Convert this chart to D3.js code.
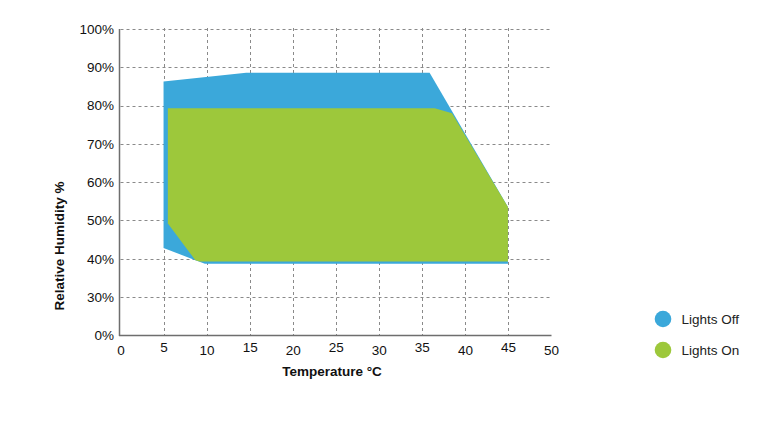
<!DOCTYPE html>
<html><head><meta charset="utf-8">
<script src="https://cdn.jsdelivr.net/npm/d3@7"></script>
<style>
body{margin:0;background:#fff;}
svg{display:block;font-family:"Liberation Sans",Arial,Helvetica,sans-serif;}
</style></head>
<body>
<svg id="chart" width="774" height="436"></svg>
<script>
// Data
const xTicks = [0,5,10,15,20,25,30,35,40,45,50];
const yTicks = [0,30,40,50,60,70,80,90,100];
const seriesNames = ["Lights Off","Lights On"];
const seriesColors = ["#3ba8da","#9dc83b"];
const offTemp = [5, 14.6, 35.9, 45, 45, 9.8, 8.7, 5];
const offHum  = [86.3, 88.6, 88.6, 53.5, 38.7, 38.7, 39.6, 42.8];
const onTemp  = [5.5, 36.5, 38.5, 45, 45, 9.2, 8.7, 5.5];
const onHum   = [79.3, 79.3, 78.0, 53.5, 39.3, 39.3, 39.6, 49.2];

const svg = d3.select("#chart");
const x = d3.scaleLinear().domain([0,50]).range([120.5,551]);
const y = d3.scaleLinear().domain([0,30,100]).range([335.5,297,29]);

// gridlines
const grid = svg.append("g").attr("stroke","#8a8a8a").attr("stroke-width",1).attr("stroke-dasharray","3,3").attr("fill","none");
grid.selectAll("line.h").data(yTicks.filter(d=>d>0)).join("line")
  .attr("x1",x(0)).attr("x2",x(50)).attr("y1",d=>Math.round(y(d))+0.5).attr("y2",d=>Math.round(y(d))+0.5);
grid.selectAll("line.v").data(xTicks.filter(d=>d>0 && d<50)).join("line")
  .attr("x1",d=>Math.round(x(d))+0.5).attr("x2",d=>Math.round(x(d))+0.5).attr("y1",y(100)-1).attr("y2",y(0));

// polygons
const line = d3.line().x(d=>x(d[0])).y(d=>y(d[1])).curve(d3.curveLinearClosed);
const polys = [d3.zip(offTemp,offHum), d3.zip(onTemp,onHum)];
svg.append("g").selectAll("path").data(polys).join("path")
  .attr("d",line).attr("fill",(d,i)=>seriesColors[i]);

// axes
const xAxis = svg.append("g").attr("transform",`translate(0,${y(0)})`)
  .call(d3.axisBottom(x).tickValues(xTicks).tickSize(0).tickPadding(9.5));
xAxis.select(".domain").remove();
xAxis.selectAll("text").attr("font-size","13.5px").attr("fill","#111").attr("font-family",null)
  .attr("y",(d,i)=> i%2===1 ? 7 : 9.5);
const yAxis = svg.append("g").attr("transform",`translate(${x(0)-1},0)`)
  .call(d3.axisLeft(y).tickValues(yTicks).tickSize(0).tickPadding(5.5).tickFormat(d=>d+"%"));
yAxis.select(".domain").remove();
yAxis.selectAll("text").attr("font-size","13.5px").attr("fill","#111").attr("font-family",null);

// axis lines
svg.append("line").attr("x1",x(0)-1).attr("x2",x(0)-1).attr("y1",y(100)).attr("y2",y(0)+0.5)
  .attr("stroke","#6e6e6e").attr("stroke-width",1.5);
svg.append("line").attr("x1",x(0)-1.5).attr("x2",x(50)+0.5).attr("y1",y(0)).attr("y2",y(0))
  .attr("stroke","#6e6e6e").attr("stroke-width",1.5);

// axis titles
svg.append("text").attr("x",332).attr("y",376).attr("text-anchor","middle")
  .attr("font-size","13.5px").attr("font-weight","bold").attr("fill","#111").text("Temperature °C");
svg.append("text").attr("transform","translate(64,246) rotate(-90)").attr("text-anchor","middle")
  .attr("font-size","13.5px").attr("font-weight","bold").attr("fill","#111").text("Relative Humidity %");

// legend
const leg = svg.append("g").selectAll("g").data(seriesNames).join("g")
  .attr("transform",(d,i)=>`translate(663,${319+i*31})`);
leg.append("circle").attr("r",8.3).attr("fill",(d,i)=>seriesColors[i]);
leg.append("text").attr("x",18.5).attr("dy","0.35em").attr("font-size","13.5px").attr("fill","#222").text(d=>d);
</script>
</body></html>
